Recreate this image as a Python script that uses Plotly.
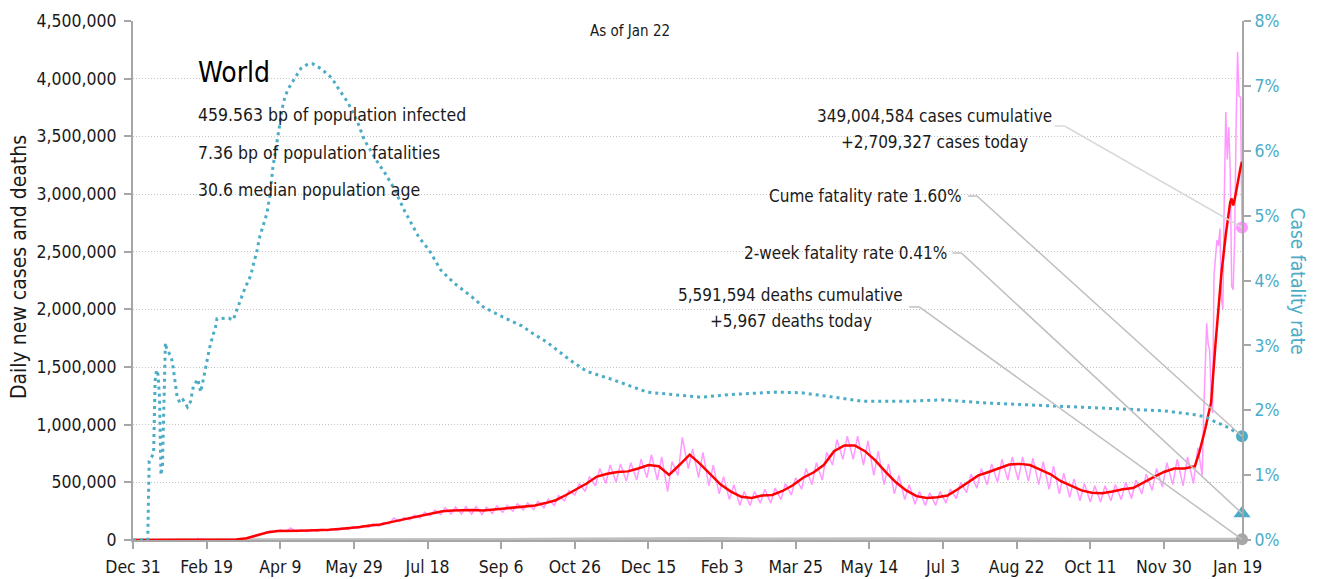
import pandas as pd
import plotly.graph_objects as go

FONT = "DejaVu Sans Condensed, Liberation Sans, sans-serif"
TEAL = "#4bacc6"
PINK = "#ff99ff"
RED = "#ff0000"
GREY = "#a6a6a6"
TXT = "#1a1a1a"

# 7-day average of new cases, thousands, weekly from Tue Dec 31 2019
avg_weekly_k = [
    0, 0, 0, 0.1, 1, 3, 3, 4, 1.5, 2,
    5, 15, 38, 65, 78, 82, 80, 82, 84, 88,
    95, 102, 112, 125, 135, 155, 175, 195, 215, 235,
    250, 255, 258, 260, 255, 265, 270, 285, 290, 300,
    320, 345, 390, 440, 490, 550, 575, 590, 595, 620,
    650, 640, 565, 650, 740, 660, 570, 480, 420, 375,
    365, 385, 390, 425, 475, 540, 585, 650, 770, 820,
    820, 770, 690, 590, 500, 430, 380, 365, 370, 385,
    440, 500, 560, 590, 625, 655, 660, 650, 610, 570,
    510, 470, 430, 410, 405, 420, 440, 450, 500, 545,
    590, 620, 620, 640,
]
avg_tail_dates = ["2021-12-24", "2021-12-26", "2021-12-28", "2021-12-30", "2022-01-01",
                  "2022-01-04", "2022-01-08", "2022-01-11", "2022-01-13", "2022-01-14",
                  "2022-01-15", "2022-01-16", "2022-01-17", "2022-01-19", "2022-01-21",
                  "2022-01-22"]
avg_tail_k = [760, 850, 960, 1080, 1190, 1700, 2310, 2650, 2850, 2930,
              2960, 2900, 2950, 3100, 3230, 3280]

# daily new cases, thousands
daily_early_dates = ["2020-01-22", "2020-01-29", "2020-02-05", "2020-02-12", "2020-02-13",
                     "2020-02-14", "2020-02-20", "2020-02-27"]
daily_early_k = [0.1, 2, 3.5, 2, 15, 6, 1, 1.5]
# weekly low (Monday) and high (Thursday) from Mon Mar 2 2020
daily_lo_k = [
    1.5, 4, 12, 35, 60, 70, 72, 72, 72, 74,
    78, 85, 90, 100, 110, 120, 140, 160, 175, 190,
    210, 220, 225, 225, 225, 220, 230, 240, 250, 260,
    265, 280, 300, 340, 390, 420, 470, 490, 500, 510,
    520, 540, 520, 420, 560, 620, 540, 470, 400, 350,
    300, 300, 320, 320, 350, 390, 440, 480, 520, 650,
    700, 700, 650, 560, 480, 400, 350, 310, 300, 300,
    320, 360, 410, 450, 480, 500, 520, 520, 510, 480,
    440, 400, 370, 340, 330, 330, 340, 350, 360, 400,
    430, 460, 480, 470,
]
daily_hi_k = [
    3, 7, 22, 50, 80, 88, 105, 88, 90, 92,
    96, 105, 112, 125, 140, 150, 190, 195, 215, 240,
    260, 280, 285, 290, 290, 285, 295, 300, 315, 320,
    335, 355, 385, 430, 490, 550, 620, 650, 660, 670,
    700, 740, 720, 680, 890, 790, 760, 650, 550, 480,
    420, 420, 440, 450, 490, 540, 620, 670, 760, 870,
    900, 900, 860, 770, 660, 560, 480, 420, 410, 420,
    440, 500, 570, 620, 660, 700, 720, 720, 710, 680,
    640, 580, 530, 490, 470, 470, 480, 500, 520, 570,
    620, 670, 700, 720,
]
daily_tail_dates = ["2021-12-20", "2021-12-23", "2021-12-25", "2021-12-26", "2021-12-27",
                    "2021-12-28", "2021-12-29", "2021-12-30", "2021-12-31", "2022-01-01",
                    "2022-01-02", "2022-01-03", "2022-01-04", "2022-01-05", "2022-01-06",
                    "2022-01-07", "2022-01-08", "2022-01-09", "2022-01-10", "2022-01-11",
                    "2022-01-12", "2022-01-13", "2022-01-14", "2022-01-15", "2022-01-16",
                    "2022-01-17", "2022-01-18", "2022-01-19", "2022-01-20", "2022-01-21",
                    "2022-01-22"]
daily_tail_k = [490, 800, 620, 560, 1100, 1500, 1880, 1700, 1650, 1300,
                1100, 2300, 2450, 2600, 2550, 2700, 2100, 2000, 3000, 3710,
                3300, 3580, 3200, 2200, 2170, 2600, 3600, 4230, 3850, 3840,
                2709.327]

# daily deaths, thousands
deaths_dates = ["2020-01-01", "2020-02-01", "2020-03-01", "2020-04-01", "2020-05-01",
                "2020-06-01", "2020-07-01", "2020-08-01", "2020-09-01", "2020-10-01",
                "2020-11-01", "2020-12-01", "2021-01-01", "2021-02-01", "2021-03-01",
                "2021-04-01", "2021-05-01", "2021-06-01", "2021-07-01", "2021-08-01",
                "2021-09-01", "2021-10-01", "2021-11-01", "2021-12-01", "2022-01-01",
                "2022-01-22"]
deaths_k = [0, 0.1, 0.3, 6, 5, 4.5, 5, 5.8, 5.5, 5.5, 8, 10.5, 12, 13, 8.5,
            11, 13, 10, 8, 9.5, 9.5, 7.5, 7, 7, 6.5, 5.967]

# case fatality rate, %
cfr_dates = ["2019-12-31", "2020-01-10", "2020-01-11", "2020-01-13", "2020-01-14",
             "2020-01-15", "2020-01-16", "2020-01-17", "2020-01-18", "2020-01-19",
             "2020-01-20", "2020-01-22", "2020-01-23", "2020-01-24", "2020-01-26",
             "2020-01-27", "2020-01-28", "2020-01-30", "2020-02-01", "2020-02-03",
             "2020-02-06", "2020-02-08", "2020-02-10", "2020-02-13", "2020-02-15",
             "2020-02-16", "2020-02-18", "2020-02-19", "2020-02-21", "2020-02-23",
             "2020-02-25", "2020-02-26", "2020-03-01", "2020-03-05", "2020-03-08",
             "2020-03-11", "2020-03-13", "2020-03-16", "2020-03-20", "2020-03-22",
             "2020-03-24", "2020-03-26", "2020-03-28", "2020-03-31", "2020-04-02",
             "2020-04-04", "2020-04-07", "2020-04-09", "2020-04-11", "2020-04-14",
             "2020-04-18", "2020-04-23", "2020-04-28", "2020-05-01", "2020-05-07",
             "2020-05-14", "2020-05-19", "2020-05-25", "2020-05-31", "2020-06-05",
             "2020-06-13", "2020-06-19", "2020-06-26", "2020-07-02", "2020-07-12",
             "2020-07-19", "2020-07-27", "2020-08-05", "2020-08-17", "2020-08-25",
             "2020-09-06", "2020-09-20", "2020-09-27", "2020-10-07", "2020-10-23",
             "2020-11-03", "2020-11-21", "2020-12-14", "2021-01-01", "2021-01-20",
             "2021-02-07", "2021-03-11", "2021-03-29", "2021-04-20", "2021-05-09",
             "2021-06-10", "2021-07-02", "2021-08-03", "2021-09-13", "2021-10-28",
             "2021-12-01", "2021-12-21", "2021-12-28", "2022-01-04", "2022-01-13",
             "2022-01-22"]
cfr_pct = [0, 0, 1.22, 1.31, 1.33,
           2.45, 2.62, 2.55, 2.2, 1.0,
           1.15, 3.04, 2.93, 2.9, 2.82,
           2.7, 2.51, 2.2, 2.11, 2.16,
           2.05, 2.13, 2.37, 2.48, 2.28,
           2.40, 2.62, 2.74, 2.96, 3.13,
           3.28, 3.41, 3.42, 3.42, 3.39,
           3.59, 3.70, 3.88, 4.08, 4.27,
           4.44, 4.67, 4.81, 5.04, 5.32,
           5.75, 6.17, 6.47, 6.74, 6.94,
           7.09, 7.27, 7.34, 7.34, 7.26,
           7.12, 6.94, 6.74, 6.47, 6.17,
           5.86, 5.66, 5.39, 5.09, 4.67,
           4.47, 4.16, 3.96, 3.75, 3.59,
           3.45, 3.30, 3.19, 3.05, 2.77,
           2.6, 2.47, 2.28, 2.24, 2.20,
           2.24, 2.28, 2.27, 2.20, 2.14,
           2.14, 2.16, 2.11, 2.07, 2.03,
           1.99, 1.93, 1.90, 1.82, 1.73,
           1.60]

last_day = "2022-01-22"
cases_today = 2709327
deaths_today = 5967
cume_cfr = 1.60
two_week_cfr = 0.41

tick_labels = ["Dec 31", "Feb 19", "Apr 9", "May 29", "Jul 18", "Sep 6", "Oct 26", "Dec 15",
               "Feb 3", "Mar 25", "May 14", "Jul 3", "Aug 22", "Oct 11", "Nov 30", "Jan 19"]
tick_vals = pd.date_range("2019-12-31", periods=len(tick_labels), freq="50D")

YMAX = 4500000
Y2MAX = 8

# build series
x_avg = list(pd.date_range("2019-12-31", periods=len(avg_weekly_k), freq="7D")) + list(pd.to_datetime(avg_tail_dates))
y_avg = [v * 1000 for v in avg_weekly_k + avg_tail_k]

x_daily = list(pd.to_datetime(daily_early_dates))
y_daily = [v * 1000 for v in daily_early_k]
for m, lo, hi in zip(pd.date_range("2020-03-02", periods=len(daily_lo_k), freq="7D"), daily_lo_k, daily_hi_k):
    x_daily += [m, m + pd.Timedelta(days=3)]
    y_daily += [lo * 1000, hi * 1000]
x_daily += list(pd.to_datetime(daily_tail_dates))
y_daily += [v * 1000 for v in daily_tail_k]

fig = go.Figure()
fig.add_trace(go.Scatter(x=deaths_dates, y=[v * 1000 for v in deaths_k], mode="lines",
                         line=dict(color="#bfbfbf", width=3), hoverinfo="skip"))
fig.add_trace(go.Scatter(x=x_daily, y=y_daily, mode="lines",
                         line=dict(color=PINK, width=1.5), hoverinfo="skip"))
fig.add_trace(go.Scatter(x=x_avg, y=y_avg, mode="lines",
                         line=dict(color=RED, width=2.5), hoverinfo="skip"))
fig.add_trace(go.Scatter(x=cfr_dates, y=cfr_pct, mode="lines", yaxis="y2",
                         line=dict(color=TEAL, width=3, dash="3px,4px"), hoverinfo="skip"))

# end markers
fig.add_trace(go.Scatter(x=[last_day], y=[cases_today], mode="markers", cliponaxis=False,
                         marker=dict(color=PINK, size=12)))
fig.add_trace(go.Scatter(x=[last_day], y=[deaths_today], mode="markers", cliponaxis=False,
                         marker=dict(color=GREY, size=12)))
fig.add_trace(go.Scatter(x=[last_day], y=[cume_cfr], mode="markers", yaxis="y2", cliponaxis=False,
                         marker=dict(color=TEAL, size=12)))
fig.add_trace(go.Scatter(x=[last_day], y=[two_week_cfr], mode="markers", yaxis="y2", cliponaxis=False,
                         marker=dict(color=TEAL, size=15, symbol="triangle-up")))

# labels: (lines, centre-or-right x, line y's, anchor, connector x0, elbow x, connector y, end value, axis, colour)
labels = [
    (["349,004,584 cases cumulative", "+2,709,327 cases today"], 0.7223, [0.8170, 0.7669], "center",
     0.8310, 0.8400, 0.7977, cases_today, "y", "#d9d9d9"),
    (["Cume fatality rate 1.60%"], 0.7493, [0.6628], "right",
     0.7530, 0.7610, 0.6628, cume_cfr, "y2", "#bfbfbf"),
    (["2-week fatality rate 0.41%"], 0.7357, [0.5530], "right",
     0.7390, 0.7470, 0.5530, two_week_cfr, "y2", "#bfbfbf"),
    (["5,591,594 deaths cumulative", "+5,967 deaths today"], 0.5933, [0.4721, 0.4220], "center",
     0.7000, 0.7090, 0.4490, deaths_today, "y", "#bfbfbf"),
]
annotations = []
shapes = []
for lines, tx, tys, anchor, sx0, sx1, sy, end_val, yax, col in labels:
    for line, ty in zip(lines, tys):
        annotations.append(dict(text=line, x=tx, y=ty, xref="paper", yref="paper", showarrow=False,
                                xanchor=anchor, yanchor="middle", font=dict(size=17, color=TXT)))
    scale = YMAX if yax == "y" else Y2MAX
    shapes.append(dict(type="line", xref="paper", yref=yax, x0=sx0, x1=sx1, y0=sy * scale, y1=sy * scale,
                       line=dict(color=col, width=1.5)))
    shapes.append(dict(type="line", xref="paper", yref=yax, x0=sx1, x1=1.0, y0=sy * scale, y1=end_val,
                       line=dict(color=col, width=1.5)))

annotations += [
    dict(text="World", x=0.0568, y=0.9017, xref="paper", yref="paper", showarrow=False,
         xanchor="left", yanchor="middle", font=dict(size=28, color="#000")),
    dict(text="459.563 bp of population infected", x=0.0568, y=0.8189, xref="paper", yref="paper",
         showarrow=False, xanchor="left", yanchor="middle", font=dict(size=17.5, color=TXT)),
    dict(text="7.36 bp of population fatalities", x=0.0568, y=0.7457, xref="paper", yref="paper",
         showarrow=False, xanchor="left", yanchor="middle", font=dict(size=17.5, color=TXT)),
    dict(text="30.6 median population age", x=0.0568, y=0.6744, xref="paper", yref="paper",
         showarrow=False, xanchor="left", yanchor="middle", font=dict(size=17.5, color=TXT)),
    dict(text="As of Jan 22", x=0.4482, y=0.9807, xref="paper", yref="paper", showarrow=False,
         xanchor="center", yanchor="middle", font=dict(size=15, color=TXT)),
    dict(text="Case fatality rate", x=1.0, xshift=56, y=0.5, xref="paper", yref="paper", showarrow=False,
         textangle=90, xanchor="center", yanchor="middle", font=dict(size=19, color=TEAL)),
    dict(text="Daily new cases and deaths", x=0.0, xshift=-114, y=0.526, xref="paper", yref="paper",
         showarrow=False, textangle=-90, xanchor="center", yanchor="middle",
         font=dict(size=21, color=TXT)),
]

axis_common = dict(showline=True, linecolor="#a6a6a6", linewidth=2, automargin=False,
                   ticks="outside", ticklen=7, tickcolor="#a6a6a6", tickwidth=2)

fig.update_layout(
    width=1317, height=579,
    margin=dict(l=125, r=83, t=13, b=47),
    paper_bgcolor="white", plot_bgcolor="white",
    showlegend=False,
    font=dict(family=FONT, color=TXT),
    xaxis=dict(range=["2019-12-31", last_day], tickmode="array", tickvals=tick_vals, ticktext=tick_labels,
               showgrid=False, tickfont=dict(size=17.5, color=TXT), ticklabelstandoff=3, **axis_common),
    yaxis=dict(range=[0, YMAX], dtick=500000, tickformat=",", showgrid=True,
               gridcolor="#c4c4c4", griddash="1px,2px", gridwidth=1, zeroline=False,
               tickfont=dict(size=17.5, color=TXT), ticklabelstandoff=4, **axis_common),
    yaxis2=dict(range=[0, Y2MAX], dtick=1, ticksuffix="%", overlaying="y", side="right",
                showgrid=False, zeroline=False, tickfont=dict(size=17.5, color=TEAL), **axis_common),
    annotations=annotations,
    shapes=shapes,
)

fig.write_html("out.html")
